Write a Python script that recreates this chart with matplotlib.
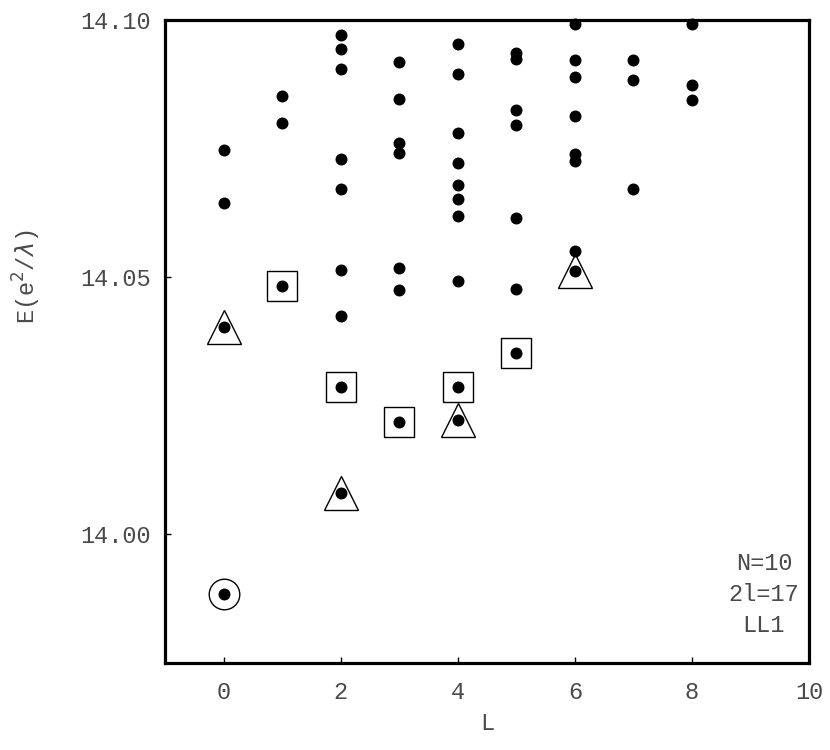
#!/usr/bin/env python3

import numpy as np
import matplotlib
matplotlib.use('Agg')
import matplotlib.pyplot as plt

# Energy spectrum, all states (L, E)
L_all = [0, 0, 0, 0,
         1, 1, 1,
         2, 2, 2, 2, 2, 2, 2, 2, 2,
         3, 3, 3, 3, 3, 3, 3,
         4, 4, 4, 4, 4, 4, 4, 4, 4, 4,
         5, 5, 5, 5, 5, 5, 5,
         6, 6, 6, 6, 6, 6, 6, 6,
         7, 7, 7,
         8, 8, 8]
E_all = [14.0747, 14.0644, 14.0403, 13.9885,
         14.0852, 14.0800, 14.0482,
         14.0971, 14.0944, 14.0905, 14.0730, 14.0671, 14.0514, 14.0424, 14.0286, 14.0080,
         14.0918, 14.0846, 14.0761, 14.0741, 14.0518, 14.0475, 14.0218,
         14.0953, 14.0895, 14.0780, 14.0722, 14.0679, 14.0652, 14.0619, 14.0492, 14.0286, 14.0222,
         14.0936, 14.0924, 14.0825, 14.0796, 14.0615, 14.0477, 14.0352,
         14.0992, 14.0922, 14.0889, 14.0813, 14.0739, 14.0726, 14.0551, 14.0512,
         14.0922, 14.0883, 14.0671,
         14.0992, 14.0874, 14.0844]

# Marked states
L_square = [1, 2, 3, 4, 5]
E_square = [14.0482, 14.0286, 14.0218, 14.0286, 14.0352]
L_triangle = [0, 2, 4, 6]
E_triangle = [14.0403, 14.0080, 14.0222, 14.0512]
L_circle = [0]
E_circle = [13.9885]

xticks = [0, 2, 4, 6, 8, 10]
yticks = [14.00, 14.05, 14.10]

font = ['Liberation Mono', 'DejaVu Sans Mono']
txt_color = '#4a4a4a'

fig = plt.figure(figsize=(8.3, 7.5), dpi=100)
ax = fig.add_axes([165/830, 1 - 663/750, (809 - 165)/830, (663 - 20)/750])

ax.plot(L_square, E_square, 's', ms=21, mfc='none', mec='k', mew=1.0, clip_on=False)
ax.plot(L_triangle, E_triangle, '^', ms=24, mfc='none', mec='k', mew=1.0, clip_on=False)
ax.plot(L_circle, E_circle, 'o', ms=22, mfc='none', mec='k', mew=1.0, clip_on=False)
ax.plot(L_all, E_all, 'o', ms=7.6, color='k', mec='k', clip_on=False, zorder=5)

ax.set_xlim(-1, 10)
ax.set_ylim(13.975, 14.10)
ax.set_xticks(xticks)
ax.set_yticks(yticks)
ax.set_xticklabels([str(t) for t in xticks])
ax.set_yticklabels(['%.2f' % t for t in yticks])
ax.tick_params(direction='in', length=4, width=1, colors='k', labelcolor=txt_color,
               labelsize=17, top=False, right=False)
ax.tick_params(axis='x', pad=13)
ax.tick_params(axis='y', pad=10)
for lbl in ax.get_xticklabels() + ax.get_yticklabels():
    lbl.set_family(font)

for s in ax.spines.values():
    s.set_linewidth(2.3)
    s.set_color('k')

ax.set_xlabel('L', family=font, fontsize=17, color=txt_color, labelpad=6)
ax.set_ylabel(r'E(e$^2$/$\lambda$)', family=font, fontsize=17, color=txt_color)
ax.yaxis.set_label_coords(-0.19, 0.60)

ax.text(0.93, 0.04, 'N=10\n2l=17\nLL1', transform=ax.transAxes, ha='center', va='bottom',
        family=font, fontsize=17, color=txt_color, linespacing=1.45)

fig.savefig('out.png', dpi=100)
